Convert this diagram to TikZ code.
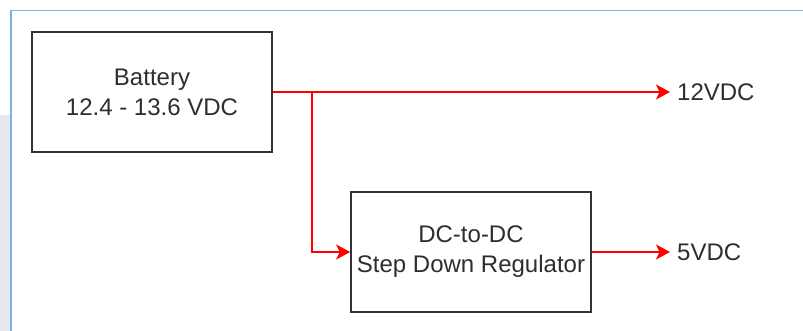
\documentclass[tikz,border=0pt]{standalone}
\usepackage{fontspec}
\setmainfont{Liberation Sans}
\usetikzlibrary{arrows.meta}
\definecolor{txt}{HTML}{2E2E2E}
\definecolor{frameblue}{HTML}{7EB0E6}
\definecolor{sidegray}{HTML}{E4E8F1}
\tikzset{
  blockbox/.style={draw=black!80, line width=1.6pt, minimum width=240pt, minimum height=120pt, align=center, font=\fontsize{24}{30}\selectfont, text=txt, inner sep=0pt},
  wire/.style={draw=red, line width=1.6pt},
  arr/.style={wire, -{Stealth[length=14pt,width=15pt,inset=3.5pt]}},
  outarr/.style={arr, shorten >=7pt},
  outlabel/.style={anchor=west, font=\fontsize{24}{28}\selectfont, text=txt, inner sep=0pt}
}
\begin{document}
\begin{tikzpicture}[x=1pt,y=-1pt]
\useasboundingbox (0,0) rectangle (803,331);
\fill[white] (0,0) rectangle (803,331);
\fill[sidegray] (0,115) rectangle (10,331);
\draw[frameblue, line width=1.5pt] (11,331) -- (11,10.5) -- (803,10.5);
\node[blockbox] (bat) at (152,92) {Battery\\12.4 - 13.6 VDC};
\node[blockbox] (reg) at (471,252) {DC-to-DC\\Step Down Regulator};
\coordinate (br) at (312,92);
\node[outlabel] (v12) at (677,92) {12VDC};
\node[outlabel] (v5) at (677,252) {5VDC};
\draw[outarr] (bat.east) -- (v12.west);
\draw[arr] (br) |- (reg.west);
\draw[outarr] (reg.east) -- (v5.west);
\end{tikzpicture}
\end{document}
